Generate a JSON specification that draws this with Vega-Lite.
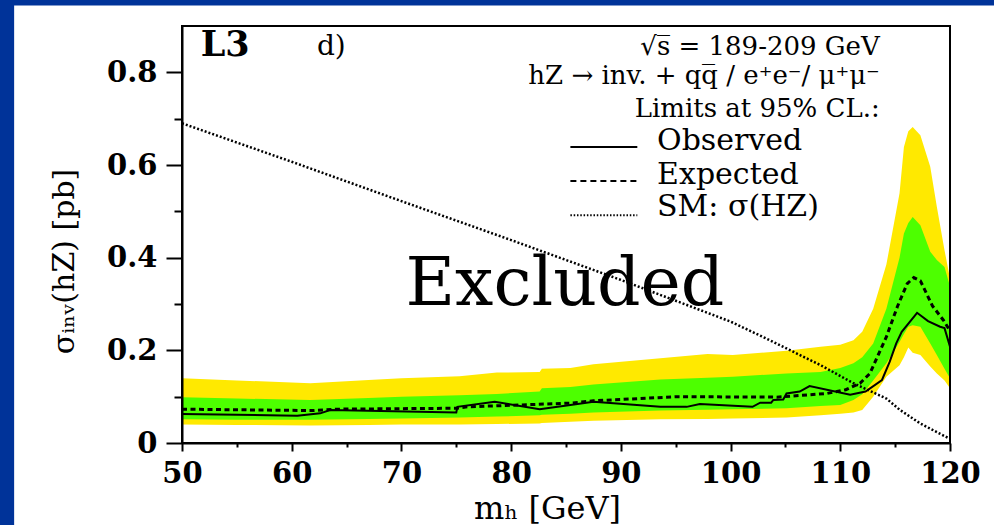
{
  "$schema": "https://vega.github.io/schema/vega-lite/v6.json",
  "width": 768,
  "height": 417,
  "autosize": {"type": "none"},
  "padding": {"left": 182, "top": 26, "right": 44, "bottom": 82},
  "background": "#003399",
  "config": {
    "view": {"stroke": null},
    "axis": {"grid": false, "domainColor": "black", "tickColor": "black", "labelColor": "black", "titleColor": "black"}
  },
  "resolve": {"axis": {"x": "independent", "y": "independent"}},
  "datasets": {
    "bands": [
      {"mh": 50, "hi2": 0.140, "hi1": 0.099, "lo1": 0.051, "lo2": 0.040},
      {"mh": 55, "hi2": 0.135, "hi1": 0.096, "lo1": 0.050, "lo2": 0.039},
      {"mh": 61.7, "hi2": 0.129, "hi1": 0.093, "lo1": 0.050, "lo2": 0.038},
      {"mh": 67, "hi2": 0.136, "hi1": 0.097, "lo1": 0.052, "lo2": 0.039},
      {"mh": 70, "hi2": 0.140, "hi1": 0.100, "lo1": 0.053, "lo2": 0.040},
      {"mh": 75.3, "hi2": 0.144, "hi1": 0.103, "lo1": 0.055, "lo2": 0.040},
      {"mh": 78.7, "hi2": 0.152, "hi1": 0.106, "lo1": 0.057, "lo2": 0.041},
      {"mh": 82.6, "hi2": 0.153, "hi1": 0.111, "lo1": 0.060, "lo2": 0.042},
      {"mh": 82.8, "hi2": 0.160, "hi1": 0.118, "lo1": 0.061, "lo2": 0.043},
      {"mh": 85.4, "hi2": 0.162, "hi1": 0.121, "lo1": 0.063, "lo2": 0.046},
      {"mh": 87.5, "hi2": 0.170, "hi1": 0.126, "lo1": 0.066, "lo2": 0.048},
      {"mh": 93.6, "hi2": 0.183, "hi1": 0.137, "lo1": 0.070, "lo2": 0.051},
      {"mh": 97.9, "hi2": 0.192, "hi1": 0.141, "lo1": 0.072, "lo2": 0.052},
      {"mh": 100.2, "hi2": 0.190, "hi1": 0.143, "lo1": 0.073, "lo2": 0.053},
      {"mh": 105.1, "hi2": 0.199, "hi1": 0.150, "lo1": 0.075, "lo2": 0.055},
      {"mh": 108.2, "hi2": 0.208, "hi1": 0.153, "lo1": 0.080, "lo2": 0.060},
      {"mh": 110.0, "hi2": 0.212, "hi1": 0.162, "lo1": 0.082, "lo2": 0.063},
      {"mh": 111.2, "hi2": 0.222, "hi1": 0.172, "lo1": 0.093, "lo2": 0.066},
      {"mh": 112.0, "hi2": 0.240, "hi1": 0.185, "lo1": 0.105, "lo2": 0.071},
      {"mh": 113.0, "hi2": 0.290, "hi1": 0.215, "lo1": 0.135, "lo2": 0.100},
      {"mh": 114.2, "hi2": 0.385, "hi1": 0.290, "lo1": 0.172, "lo2": 0.143},
      {"mh": 115.4, "hi2": 0.539, "hi1": 0.400, "lo1": 0.218, "lo2": 0.168},
      {"mh": 115.8, "hi2": 0.639, "hi1": 0.452, "lo1": 0.235, "lo2": 0.185},
      {"mh": 116.2, "hi2": 0.673, "hi1": 0.475, "lo1": 0.251, "lo2": 0.206},
      {"mh": 116.6, "hi2": 0.682, "hi1": 0.488, "lo1": 0.254, "lo2": 0.195},
      {"mh": 117.3, "hi2": 0.664, "hi1": 0.470, "lo1": 0.251, "lo2": 0.190},
      {"mh": 118.2, "hi2": 0.596, "hi1": 0.413, "lo1": 0.215, "lo2": 0.165},
      {"mh": 118.8, "hi2": 0.510, "hi1": 0.395, "lo1": 0.190, "lo2": 0.150},
      {"mh": 119.5, "hi2": 0.416, "hi1": 0.380, "lo1": 0.160, "lo2": 0.135},
      {"mh": 120, "hi2": 0.355, "hi1": 0.338, "lo1": 0.140, "lo2": 0.118}
    ],
    "expected": [
      {"mh": 50, "xs": 0.073}, {"mh": 62, "xs": 0.070}, {"mh": 64, "xs": 0.073},
      {"mh": 75, "xs": 0.075}, {"mh": 76, "xs": 0.078}, {"mh": 85.4, "xs": 0.086},
      {"mh": 87.5, "xs": 0.091}, {"mh": 95.1, "xs": 0.100}, {"mh": 104.2, "xs": 0.099},
      {"mh": 108.8, "xs": 0.107}, {"mh": 110.5, "xs": 0.115}, {"mh": 111.8, "xs": 0.129},
      {"mh": 112.7, "xs": 0.150}, {"mh": 114.2, "xs": 0.229}, {"mh": 115.2, "xs": 0.294},
      {"mh": 116.1, "xs": 0.344}, {"mh": 116.7, "xs": 0.357}, {"mh": 117.3, "xs": 0.350},
      {"mh": 118.4, "xs": 0.296}, {"mh": 119.4, "xs": 0.265}, {"mh": 120, "xs": 0.242}
    ],
    "observed": [
      {"mh": 50, "xs": 0.0625}, {"mh": 60.5, "xs": 0.059}, {"mh": 62.6, "xs": 0.064},
      {"mh": 63.5, "xs": 0.071}, {"mh": 75.0, "xs": 0.066}, {"mh": 75.1, "xs": 0.078},
      {"mh": 78.5, "xs": 0.089}, {"mh": 82.6, "xs": 0.073}, {"mh": 85.4, "xs": 0.082},
      {"mh": 87.5, "xs": 0.089}, {"mh": 93.6, "xs": 0.078}, {"mh": 96.0, "xs": 0.078},
      {"mh": 97.2, "xs": 0.084}, {"mh": 102.0, "xs": 0.078}, {"mh": 102.7, "xs": 0.087},
      {"mh": 103.7, "xs": 0.087}, {"mh": 103.9, "xs": 0.093}, {"mh": 104.8, "xs": 0.094},
      {"mh": 105.1, "xs": 0.107}, {"mh": 106.3, "xs": 0.111}, {"mh": 107.2, "xs": 0.123},
      {"mh": 110.9, "xs": 0.104}, {"mh": 112.3, "xs": 0.111}, {"mh": 113.8, "xs": 0.136},
      {"mh": 114.5, "xs": 0.175}, {"mh": 115.1, "xs": 0.215}, {"mh": 115.6, "xs": 0.240},
      {"mh": 117.0, "xs": 0.281}, {"mh": 118.0, "xs": 0.263}, {"mh": 119.1, "xs": 0.251},
      {"mh": 119.5, "xs": 0.248}, {"mh": 120, "xs": 0.208}
    ],
    "sm": [
      {"mh": 50, "xs": 0.690}, {"mh": 60, "xs": 0.607}, {"mh": 70, "xs": 0.522},
      {"mh": 80, "xs": 0.438}, {"mh": 90, "xs": 0.352}, {"mh": 100, "xs": 0.262},
      {"mh": 103.3, "xs": 0.225}, {"mh": 108.2, "xs": 0.168}, {"mh": 111.2, "xs": 0.129},
      {"mh": 114.2, "xs": 0.096}, {"mh": 115.4, "xs": 0.072}, {"mh": 117.3, "xs": 0.042},
      {"mh": 119.9, "xs": 0.010}
    ]
  },
  "layer": [
    {
      "data": {"values": [{}]},
      "mark": {"type": "rect", "fill": "white"},
      "encoding": {
        "x": {"datum": 34.7, "type": "quantitative", "scale": {"domain": [50, 120], "nice": false, "zero": false}, "axis": null},
        "x2": {"datum": 125},
        "y": {"datum": 0.9445, "type": "quantitative", "scale": {"domain": [0, 0.9], "nice": false, "zero": false}, "axis": null},
        "y2": {"datum": -0.2}
      }
    },
    {
      "data": {"name": "bands"},
      "mark": {"type": "area", "color": "#FFE900", "opacity": 1},
      "encoding": {
        "x": {
          "field": "mh", "type": "quantitative",
          "scale": {"domain": [50, 120], "nice": false, "zero": false},
          "axis": {
            "orient": "bottom", "zindex": 2, "values": [50, 60, 70, 80, 90, 100, 110, 120], "format": "d",
            "tickSize": 8, "tickWidth": 2, "domainWidth": 2, "labelPadding": 8,
            "labelFont": "DejaVu Serif", "labelFontWeight": "bold", "labelFontSize": 29,
            "labelFlush": false, "labelOverlap": false,
            "title": "mₕ  [GeV]", "titleFont": "DejaVu Serif", "titleFontWeight": "normal",
            "titleFontSize": 32, "titlePadding": 5, "titleX": 365
          }
        },
        "y": {
          "field": "hi2", "type": "quantitative",
          "scale": {"domain": [0, 0.9], "nice": false, "zero": false},
          "axis": {
            "orient": "left", "zindex": 2, "values": [0, 0.2, 0.4, 0.6, 0.8], "format": "~g",
            "tickSize": 16, "tickWidth": 2, "domainWidth": 2, "labelPadding": 9,
            "labelFont": "DejaVu Serif", "labelFontWeight": "bold", "labelFontSize": 29,
            "labelFlush": false, "labelOverlap": false,
            "title": "σᵢₙᵥ(hZ) [pb]", "titleFont": "DejaVu Serif", "titleFontWeight": "normal",
            "titleFontSize": 30, "titlePadding": 27, "titleY": 235
          }
        },
        "y2": {"field": "lo2"}
      }
    },
    {
      "data": {"name": "bands"},
      "mark": {"type": "area", "color": "#4DFF00", "opacity": 1},
      "encoding": {
        "x": {"field": "mh", "type": "quantitative", "scale": {"domain": [50, 120], "nice": false, "zero": false}, "axis": null},
        "y": {"field": "hi1", "type": "quantitative", "scale": {"domain": [0, 0.9], "nice": false, "zero": false}, "axis": null},
        "y2": {"field": "lo1"}
      }
    },
    {
      "data": {"name": "sm"},
      "mark": {"type": "line", "color": "black", "strokeWidth": 2.5, "strokeDash": [2, 2]},
      "encoding": {
        "x": {
          "field": "mh", "type": "quantitative",
          "scale": {"domain": [50, 120], "nice": false, "zero": false},
          "axis": {"orient": "bottom", "zindex": 2, "values": [55, 65, 75, 85, 95, 105, 115], "tickSize": 4, "tickWidth": 2, "domain": false, "labels": false, "title": null}
        },
        "y": {
          "field": "xs", "type": "quantitative",
          "scale": {"domain": [0, 0.9], "nice": false, "zero": false},
          "axis": {"orient": "left", "zindex": 2, "values": [0.1, 0.3, 0.5, 0.7], "tickSize": 8, "tickWidth": 2, "domain": false, "labels": false, "title": null}
        }
      }
    },
    {
      "data": {"name": "expected"},
      "mark": {"type": "line", "color": "black", "strokeWidth": 3, "strokeDash": [5, 3.5]},
      "encoding": {
        "x": {"field": "mh", "type": "quantitative", "scale": {"domain": [50, 120], "nice": false, "zero": false}, "axis": null},
        "y": {"field": "xs", "type": "quantitative", "scale": {"domain": [0, 0.9], "nice": false, "zero": false}, "axis": null}
      }
    },
    {
      "data": {"name": "observed"},
      "mark": {"type": "line", "color": "black", "strokeWidth": 2},
      "encoding": {
        "x": {"field": "mh", "type": "quantitative", "scale": {"domain": [50, 120], "nice": false, "zero": false}, "axis": null},
        "y": {"field": "xs", "type": "quantitative", "scale": {"domain": [0, 0.9], "nice": false, "zero": false}, "axis": null}
      }
    },
    {
      "data": {"values": [{}]},
      "mark": {"type": "rect", "filled": false, "stroke": "black", "strokeWidth": 2},
      "encoding": {
        "x": {"datum": 50, "type": "quantitative", "scale": {"domain": [50, 120], "nice": false, "zero": false}, "axis": null},
        "x2": {"datum": 120},
        "y": {"datum": 0, "type": "quantitative", "scale": {"domain": [0, 0.9], "nice": false, "zero": false}, "axis": null},
        "y2": {"datum": 0.9}
      }
    },
    {
      "data": {"values": [{}]},
      "mark": {"type": "rule", "color": "black", "strokeWidth": 2},
      "encoding": {
        "x": {"datum": 85.4, "type": "quantitative", "scale": {"domain": [50, 120], "nice": false, "zero": false}, "axis": null},
        "x2": {"datum": 91.5},
        "y": {"datum": 0.639, "type": "quantitative", "scale": {"domain": [0, 0.9], "nice": false, "zero": false}, "axis": null}
      }
    },
    {
      "data": {"values": [{}]},
      "mark": {"type": "rule", "color": "black", "strokeWidth": 2, "strokeDash": [6, 4]},
      "encoding": {
        "x": {"datum": 85.4, "type": "quantitative", "scale": {"domain": [50, 120], "nice": false, "zero": false}, "axis": null},
        "x2": {"datum": 91.5},
        "y": {"datum": 0.5657, "type": "quantitative", "scale": {"domain": [0, 0.9], "nice": false, "zero": false}, "axis": null}
      }
    },
    {
      "data": {"values": [{}]},
      "mark": {"type": "rule", "color": "black", "strokeWidth": 2, "strokeDash": [1.5, 1.8]},
      "encoding": {
        "x": {"datum": 85.4, "type": "quantitative", "scale": {"domain": [50, 120], "nice": false, "zero": false}, "axis": null},
        "x2": {"datum": 91.5},
        "y": {"datum": 0.4917, "type": "quantitative", "scale": {"domain": [0, 0.9], "nice": false, "zero": false}, "axis": null}
      }
    },
    {
      "data": {"values": [
        {"label": "√s̅ = 189-209 GeV", "mh": 113.6, "xs": 0.8367},
        {"label": "hZ → inv. + qq̅ / e⁺e⁻/ μ⁺μ⁻", "mh": 113.6, "xs": 0.7756},
        {"label": "Limits at 95% CL.:", "mh": 113.6, "xs": 0.7037}
      ]},
      "mark": {"type": "text", "align": "right", "baseline": "alphabetic", "font": "DejaVu Serif", "fontSize": 26, "color": "black"},
      "encoding": {
        "x": {"field": "mh", "type": "quantitative", "scale": {"domain": [50, 120], "nice": false, "zero": false}, "axis": null},
        "y": {"field": "xs", "type": "quantitative", "scale": {"domain": [0, 0.9], "nice": false, "zero": false}, "axis": null},
        "text": {"field": "label"}
      }
    },
    {
      "data": {"values": [
        {"label": "Observed", "mh": 93.3, "xs": 0.6318},
        {"label": "Expected", "mh": 93.3, "xs": 0.560},
        {"label": "SM: σ(HZ)", "mh": 93.3, "xs": 0.4895}
      ]},
      "mark": {"type": "text", "align": "left", "baseline": "alphabetic", "font": "DejaVu Serif", "fontSize": 30, "color": "black"},
      "encoding": {
        "x": {"field": "mh", "type": "quantitative", "scale": {"domain": [50, 120], "nice": false, "zero": false}, "axis": null},
        "y": {"field": "xs", "type": "quantitative", "scale": {"domain": [0, 0.9], "nice": false, "zero": false}, "axis": null},
        "text": {"field": "label"}
      }
    },
    {
      "data": {"values": [{}]},
      "mark": {"type": "text", "text": "L3", "align": "left", "baseline": "alphabetic", "font": "DejaVu Serif", "fontWeight": "bold", "fontSize": 35, "color": "black"},
      "encoding": {
        "x": {"datum": 51.7, "type": "quantitative", "scale": {"domain": [50, 120], "nice": false, "zero": false}, "axis": null},
        "y": {"datum": 0.835, "type": "quantitative", "scale": {"domain": [0, 0.9], "nice": false, "zero": false}, "axis": null}
      }
    },
    {
      "data": {"values": [{}]},
      "mark": {"type": "text", "text": "d)", "align": "left", "baseline": "alphabetic", "font": "DejaVu Serif", "fontSize": 28, "color": "black"},
      "encoding": {
        "x": {"datum": 62.3, "type": "quantitative", "scale": {"domain": [50, 120], "nice": false, "zero": false}, "axis": null},
        "y": {"datum": 0.837, "type": "quantitative", "scale": {"domain": [0, 0.9], "nice": false, "zero": false}, "axis": null}
      }
    },
    {
      "data": {"values": [{}]},
      "mark": {"type": "text", "text": "Excluded", "align": "center", "baseline": "alphabetic", "font": "DejaVu Serif", "fontSize": 68, "color": "black"},
      "encoding": {
        "x": {"datum": 84.9, "type": "quantitative", "scale": {"domain": [50, 120], "nice": false, "zero": false}, "axis": null},
        "y": {"datum": 0.2976, "type": "quantitative", "scale": {"domain": [0, 0.9], "nice": false, "zero": false}, "axis": null}
      }
    }
  ]
}
